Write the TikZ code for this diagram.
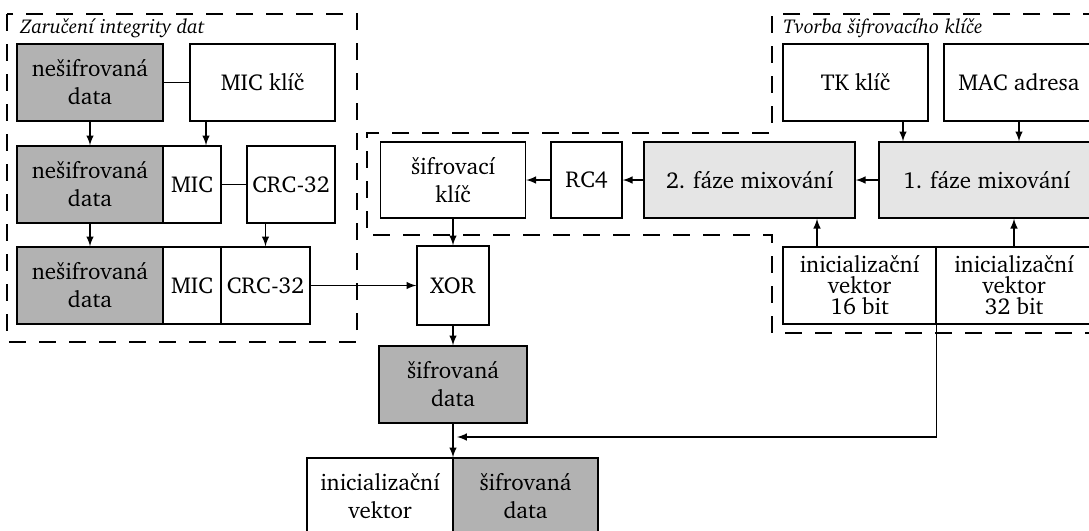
\documentclass[tikz,border=0pt]{standalone}
\usepackage[T1]{fontenc}
\usepackage{charter}
\usepackage{tikz}

\begin{document}
\begin{tikzpicture}[x=0.5pt,y=-0.5pt]
      \tikzstyle{blok}=[draw, line width=0.7pt, inner sep=0pt, align=center, minimum height=38.5pt, font=\fontsize{11.5}{14}\selectfont]
      \tikzstyle{tmavy}=[blok, fill=gray!60]
      \tikzstyle{svetly}=[blok, fill=gray!20]
      \tikzstyle{vektor}=[blok, font=\fontsize{11.5}{10.5}\selectfont]
      \tikzstyle{oblast}=[draw, line width=0.7pt, dash pattern=on 8.5pt off 6.5pt]
      \tikzstyle{popis}=[anchor=base west, inner sep=0pt, font=\itshape\fontsize{10}{12}\selectfont]
      \tikzstyle{sipka}=[->,>=latex,line width=0.7pt]
      \tikzstyle{cara}=[line width=0.7pt]

      \useasboundingbox (0,0) rectangle (1089,531);
      \clip (0,0) rectangle (1089,531);

      \draw[oblast] (7,14) rectangle (357,342);
      \draw[oblast] (1100,14) -- (772,14) -- (772,133) -- (367,133) -- (367,235) -- (772,235) -- (772,333) -- (1100,333);
      \node[popis] (nadpisA) at (20,33) {Zaru\v{c}en\'i integrity dat};
      \node[popis] (nadpisB) at (783,33) {Tvorba \v{s}ifrovac\'iho kl\'i\v{c}e};

      \node[tmavy, minimum width=73pt] (dataA) at (90,82.5) {ne\v{s}ifrovan\'a\\data};
      \node[blok, minimum width=72.5pt] (micKlic) at (262.5,82.5) {MIC kl\'i\v{c}};
      \node[tmavy, minimum width=73pt] (dataB) at (90,184.5) {ne\v{s}ifrovan\'a\\data};
      \node[blok, minimum width=29pt] (micB) at (192,184.5) {MIC};
      \node[blok, minimum width=44pt] (crcB) at (291,184.5) {CRC-32};
      \node[tmavy, minimum width=73pt] (dataC) at (90,285.5) {ne\v{s}ifrovan\'a\\data};
      \node[blok, minimum width=29pt] (micC) at (192,285.5) {MIC};
      \node[blok, minimum width=44.5pt] (crcC) at (265.5,285.5) {CRC-32};

      \node[blok, minimum width=72.5pt, minimum height=38pt] (sifKlic) at (453,180) {\v{s}ifrovac\'i\\kl\'i\v{c}};
      \node[blok, minimum width=35.5pt, minimum height=38pt] (rc4) at (586.5,180) {RC4};
      \node[svetly, minimum width=105.5pt, minimum height=38pt] (mix2) at (749.5,180) {2. f\'aze mixov\'an\'i};
      \node[svetly, minimum width=107.5pt, minimum height=38pt] (mix1) at (986.5,180) {1. f\'aze mixov\'an\'i};
      \node[blok, minimum width=72.5pt] (tk) at (855.5,82.5) {TK kl\'i\v{c}};
      \node[blok, minimum width=75pt] (mac) at (1019,82.5) {MAC adresa};
      \node[vektor, minimum width=76.5pt] (iv16) at (859.5,285.5) {inicializa\v{c}n\'i\\vektor\\16 bit};
      \node[vektor, minimum width=78pt] (iv32) at (1014,285.5) {inicializa\v{c}n\'i\\vektor\\32 bit};

      \node[blok, minimum width=36pt, minimum height=39.5pt] (xor) at (453,285.5) {XOR};
      \node[tmavy, minimum width=74pt] (sifData) at (453,384.5) {\v{s}ifrovan\'a\\data};
      \node[blok, minimum width=73pt] (ivVystup) at (380,496.5) {inicializa\v{c}n\'i\\vektor};
      \node[tmavy, minimum width=72.5pt] (sifVystup) at (525.5,496.5) {\v{s}ifrovan\'a\\data};
      \coordinate (spoj) at (457,437);

      \draw[cara] (dataA) -- (micKlic);
      \draw[cara] (micB) -- (crcB);
      \draw[sipka] (dataA) -- (dataB);
      \draw[sipka] ([xshift=-28.25pt]micKlic.south) -- ([xshift=-28.25pt]micKlic.south |- micB.north);
      \draw[sipka] (dataB) -- (dataC);
      \draw[sipka] (crcB.south -| crcC) -- (crcC);
      \draw[sipka] (crcC) -- (xor);
      \draw[sipka] (sifKlic) -- (xor);
      \draw[sipka] (xor) -- (sifData);
      \draw[sipka] (sifData) -- (sifData |- ivVystup.north);
      \draw[sipka] (rc4) -- (sifKlic);
      \draw[sipka] (mix2) -- (rc4);
      \draw[sipka] (mix1) -- (mix2);
      \draw[sipka] ([xshift=23.75pt]tk.south) -- ([xshift=23.75pt]tk.south |- mix1.north);
      \draw[sipka] (mac) -- (mac |- mix1.north);
      \draw[sipka] ([xshift=-21.25pt]iv16.north) -- ([xshift=-21.25pt]iv16.north |- mix2.south);
      \draw[sipka] (iv32) -- (iv32 |- mix1.south);
      \draw[sipka] (iv16.south east) |- (spoj);

    \end{tikzpicture}
\end{document}
